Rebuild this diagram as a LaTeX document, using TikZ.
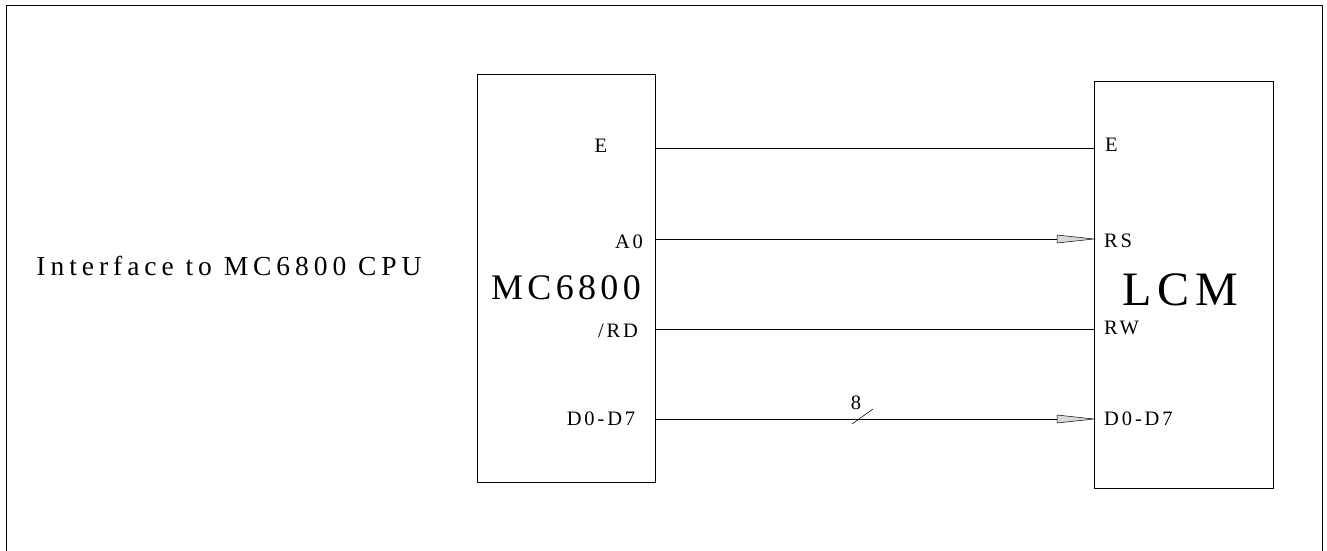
\documentclass[tikz,border=0pt]{standalone}
\usepackage{fontspec}
\setmainfont{Liberation Serif}
\usetikzlibrary{positioning}
\begin{document}
\begin{tikzpicture}[x=1pt,y=-1pt,
  chip/.style={draw, line width=0.9pt},
  wire/.style={line width=0.7pt},
  lab/.style={inner sep=0pt, anchor=base, font=\fontsize{20.5}{20.5}\selectfont\addfontfeature{LetterSpace=14}},
  bigtxt/.style={inner sep=0pt, anchor=base},
  fathead/.style={draw, line width=0.5pt, fill=gray!30}
]
\useasboundingbox (0,0) rectangle (1327,551);
\draw[line width=0.8pt] (6,553) -- (6,5) -- (1322,5) -- (1322,553);

% chips
\draw[chip] (477,74) rectangle (655,482);
\draw[chip] (1094,81) rectangle (1273,488);

% title
\node[bigtxt, font=\fontsize{27.5}{27.5}\selectfont\addfontfeature{LetterSpace=18}] (title) at (229,275) {Interface to MC6800 CPU};
\node[bigtxt, font=\fontsize{36}{36}\selectfont\addfontfeature{LetterSpace=12}] (cpuname) at (566,299) {MC6800};
\node[bigtxt, font=\fontsize{48}{48}\selectfont\addfontfeature{LetterSpace=12}] (lcmname) at (1180,305) {LCM};

% pins
\coordinate (cE) at (655,148);
\coordinate (cA) at (655,239);
\coordinate (cR) at (655,329);
\coordinate (cD) at (655,419);
\coordinate (lE) at (1094,148);
\coordinate (lA) at (1094,239);
\coordinate (lR) at (1094,329);
\coordinate (lD) at (1094,419);

% left labels
\node[lab] (tE) at (601,152) {E};
\node[lab] (tA) at (629,248) {A0};
\node[lab] (tR) at (618,337) {/RD};
\node[lab] (tD) at (601,425) {D0-D7};
% right labels
\node[lab, anchor=base west] (rE) at (1105,151) {E};
\node[lab, anchor=base west] (rA) at (1104,247) {RS};
\node[lab, anchor=base west] (rR) at (1104,334) {RW};
\node[lab, anchor=base west] (rD) at (1104,425) {D0-D7};

% wires
\draw[wire] (cE) -- (lE);
\draw[wire] (cA) -- ([xshift=-37]lA);
\draw[wire] (cR) -- (lR);
\draw[wire] (cD) -- ([xshift=-37]lD);
\draw[fathead] (lA) -- ++(-37,-4) -- ++(0,8) -- cycle;
\draw[fathead] (lD) -- ++(-37,-4) -- ++(0,8) -- cycle;

% bus slash
\draw[line width=0.6pt] (852,424) -- (873,409);
\node[inner sep=0pt, anchor=base, font=\fontsize{20.5}{20.5}\selectfont] (eight) at (856,409) {8};
\end{tikzpicture}
\end{document}
